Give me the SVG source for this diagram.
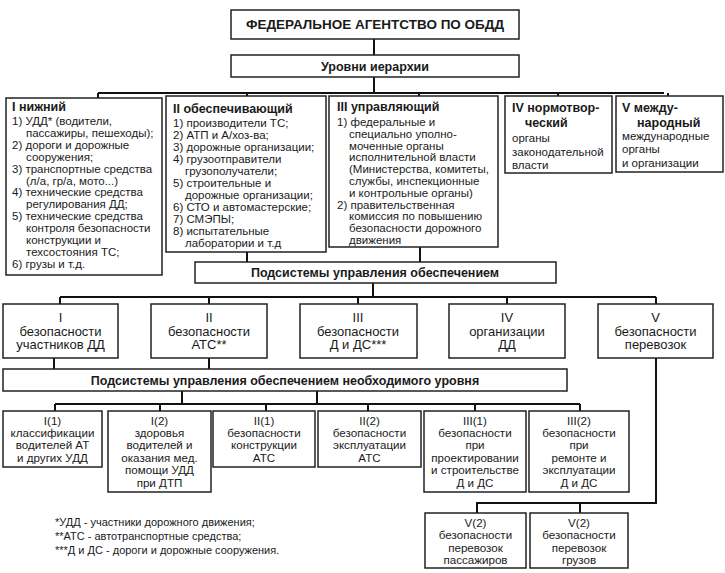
<svg xmlns="http://www.w3.org/2000/svg" width="725" height="573" viewBox="0 0 725 573">
<style>
text{font-family:"Liberation Sans",Arial,sans-serif;fill:#1a1a1a}
.box{fill:#fff;stroke:#222;stroke-width:1.5}
.con{stroke:#111;stroke-width:2;fill:none}
.t{font-size:11.5px}
.h{font-size:12.5px;font-weight:bold}
.s{font-size:13px;text-anchor:middle}
.r{font-size:11.6px;text-anchor:middle}
.f{font-size:11px}
.c{text-anchor:middle}
</style>
<rect width="725" height="573" fill="#fff"/>
<g id="connectors">
<path class="con" d="M374 39V55M374 77V93M98 93H664M98 93V98M247 93V96M419 93V96M558 93V96M668 93V96"/>
<path class="con" d="M247 252V262M420 247V262M373 283V297M60 297H656M60 297V304M209 297V304M358 297V304M507 297V304M656 297V304"/>
<path class="con" d="M54 358V369M209 358V369M182 391V404M317 391V404M55 404H580M55 404V411M160 404V411M266 404V411M368 404V411M475 404V411M580 404V411"/>
<path class="con" d="M656 358V503H477V513M580 503V513"/>
</g>
<g id="agency"><rect class="box" x="231" y="10" width="288" height="29"/><text class="h c" x="375" y="29" font-size="13" textLength="258" lengthAdjust="spacingAndGlyphs">ФЕДЕРАЛЬНОЕ АГЕНТСТВО ПО ОБДД</text></g>
<g id="levels"><rect class="box" x="231" y="55" width="288" height="22"/><text class="h c" x="375" y="70.5">Уровни иерархии</text></g>
<g id="level1"><rect class="box" x="6" y="98" width="156" height="177"/>
<text class="h" x="12" y="110.5">I нижний</text>
<text class="t" x="12" y="125"><tspan x="12">1) УДД* (водители,</tspan><tspan x="26" dy="11.9">пассажиры, пешеходы);</tspan><tspan x="12" dy="11.9">2) дороги и дорожные</tspan><tspan x="26" dy="11.9">сооружения;</tspan><tspan x="12" dy="11.9">3) транспортные средства</tspan><tspan x="26" dy="11.9">(л/а, гр/а, мото...)</tspan><tspan x="12" dy="11.9">4) технические средства</tspan><tspan x="26" dy="11.9">регулирования ДД;</tspan><tspan x="12" dy="11.9">5) технические средства</tspan><tspan x="26" dy="11.9">контроля безопасности</tspan><tspan x="26" dy="11.9">конструкции и</tspan><tspan x="26" dy="11.9">техсостояния ТС;</tspan><tspan x="12" dy="11.9">6) грузы и т.д.</tspan></text></g>
<g id="level2"><rect class="box" x="166" y="96" width="160" height="156"/>
<text class="h" x="173" y="113">II обеспечивающий</text>
<text class="t" x="173" y="127"><tspan x="173">1) производители ТС;</tspan><tspan x="173" dy="12">2) АТП и А/хоз-ва;</tspan><tspan x="173" dy="12">3) дорожные организации;</tspan><tspan x="173" dy="12">4) грузоотправители</tspan><tspan x="185" dy="12">грузополучатели;</tspan><tspan x="173" dy="12">5) строительные и</tspan><tspan x="185" dy="12">дорожные организации;</tspan><tspan x="173" dy="12">6) СТО и автомастерские;</tspan><tspan x="173" dy="12">7) СМЭПЫ;</tspan><tspan x="173" dy="12">8) испытательные</tspan><tspan x="185" dy="12">лаборатории и т.д</tspan></text></g>
<g id="level3"><rect class="box" x="329" y="96" width="169" height="151"/>
<text class="h" x="337" y="111">III управляющий</text>
<text class="t" x="337" y="126"><tspan x="337">1) федеральные и</tspan><tspan x="349" dy="11.8">специально уполно-</tspan><tspan x="349" dy="11.8">моченные органы</tspan><tspan x="349" dy="11.8">исполнительной власти</tspan><tspan x="349" dy="11.8">(Министерства, комитеты,</tspan><tspan x="349" dy="11.8">службы, инспекционные</tspan><tspan x="349" dy="11.8">и контрольные органы)</tspan><tspan x="337" dy="11.8">2) правительственная</tspan><tspan x="349" dy="11.8">комиссия по повышению</tspan><tspan x="349" dy="11.8">безопасности дорожного</tspan><tspan x="349" dy="11.8">движения</tspan></text></g>
<g id="level4"><rect class="box" x="505" y="96" width="107" height="77"/>
<text class="h" x="512" y="112">IV нормотвор-</text><text class="h" x="525" y="127">ческий</text>
<text class="t" x="512" y="142"><tspan x="512">органы</tspan><tspan x="512" dy="13.5">законодательной</tspan><tspan x="512" dy="13.5">власти</tspan></text></g>
<g id="level5"><rect class="box" x="616" y="96" width="107" height="76"/>
<text class="h" x="622" y="112">V между-</text><text class="h" x="637" y="127">народный</text>
<text class="t" x="622" y="139.5"><tspan x="622">международные</tspan><tspan x="622" dy="13.8">органы</tspan><tspan x="622" dy="13.8">и организации</tspan></text></g>
<g id="subsystems"><rect class="box" x="195" y="262" width="361" height="21"/><text class="h c" x="375" y="277">Подсистемы управления обеспечением</text></g>
<g id="sub1"><rect class="box" x="3" y="304" width="115" height="54"/><text class="s" x="60.5" y="322"><tspan x="60.5">I</tspan><tspan x="60.5" dy="13.5">безопасности</tspan><tspan x="60.5" dy="13.5">участников ДД</tspan></text></g>
<g id="sub2"><rect class="box" x="151" y="304" width="116" height="54"/><text class="s" x="209" y="322"><tspan x="209">II</tspan><tspan x="209" dy="13.5">безопасности</tspan><tspan x="209" dy="13.5">АТС**</tspan></text></g>
<g id="sub3"><rect class="box" x="300" y="304" width="117" height="54"/><text class="s" x="358" y="322"><tspan x="358">III</tspan><tspan x="358" dy="13.5">безопасности</tspan><tspan x="358" dy="13.5">Д и ДС***</tspan></text></g>
<g id="sub4"><rect class="box" x="449" y="304" width="116" height="54"/><text class="s" x="507" y="322"><tspan x="507">IV</tspan><tspan x="507" dy="13.5">организации</tspan><tspan x="507" dy="13.5">ДД</tspan></text></g>
<g id="sub5"><rect class="box" x="598" y="304" width="115" height="54"/><text class="s" x="655.5" y="322"><tspan x="655.5">V</tspan><tspan x="655.5" dy="13.5">безопасности</tspan><tspan x="655.5" dy="13.5">перевозок</tspan></text></g>
<g id="subsystems-level"><rect class="box" x="3" y="369" width="564" height="22"/><text class="h c" x="285" y="384.5">Подсистемы управления обеспечением необходимого уровня</text></g>
<g id="s11"><rect class="box" x="3" y="411" width="99" height="56"/><text class="r" x="52.5" y="424.5"><tspan x="52.5">I(1)</tspan><tspan x="52.5" dy="12.4">классификации</tspan><tspan x="52.5" dy="12.4">водителей АТ</tspan><tspan x="52.5" dy="12.4">и других УДД</tspan></text></g>
<g id="s12"><rect class="box" x="108" y="411" width="103" height="81"/><text class="r" x="159.5" y="424.5"><tspan x="159.5">I(2)</tspan><tspan x="159.5" dy="12.4">здоровья</tspan><tspan x="159.5" dy="12.4">водителей и</tspan><tspan x="159.5" dy="12.4">оказания мед.</tspan><tspan x="159.5" dy="12.4">помощи УДД</tspan><tspan x="159.5" dy="12.4">при ДТП</tspan></text></g>
<g id="s21"><rect class="box" x="213" y="411" width="102" height="56"/><text class="r" x="264" y="424.5"><tspan x="264">II(1)</tspan><tspan x="264" dy="12.4">безопасности</tspan><tspan x="264" dy="12.4">конструкции</tspan><tspan x="264" dy="12.4">АТС</tspan></text></g>
<g id="s22"><rect class="box" x="318" y="411" width="103" height="56"/><text class="r" x="369.5" y="424.5"><tspan x="369.5">II(2)</tspan><tspan x="369.5" dy="12.4">безопасности</tspan><tspan x="369.5" dy="12.4">эксплуатации</tspan><tspan x="369.5" dy="12.4">АТС</tspan></text></g>
<g id="s31"><rect class="box" x="424" y="411" width="102" height="81"/><text class="r" x="475" y="424.5"><tspan x="475">III(1)</tspan><tspan x="475" dy="12.4">безопасности</tspan><tspan x="475" dy="12.4">при</tspan><tspan x="475" dy="12.4">проектировании</tspan><tspan x="475" dy="12.4">и строительстве</tspan><tspan x="475" dy="12.4">Д и ДС</tspan></text></g>
<g id="s32"><rect class="box" x="529" y="411" width="100" height="81"/><text class="r" x="579" y="424.5"><tspan x="579">III(2)</tspan><tspan x="579" dy="12.4">безопасности</tspan><tspan x="579" dy="12.4">при</tspan><tspan x="579" dy="12.4">ремонте и</tspan><tspan x="579" dy="12.4">эксплуатации</tspan><tspan x="579" dy="12.4">Д и ДС</tspan></text></g>
<g id="v21"><rect class="box" x="425" y="513" width="101" height="55"/><text class="r" x="475.5" y="526.5"><tspan x="475.5">V(2)</tspan><tspan x="475.5" dy="12.5">безопасности</tspan><tspan x="475.5" dy="12.5">перевозок</tspan><tspan x="475.5" dy="12.5">пассажиров</tspan></text></g>
<g id="v22"><rect class="box" x="530" y="513" width="98" height="55"/><text class="r" x="579" y="526.5"><tspan x="579">V(2)</tspan><tspan x="579" dy="12.5">безопасности</tspan><tspan x="579" dy="12.5">перевозок</tspan><tspan x="579" dy="12.5">грузов</tspan></text></g>
<g id="footnotes"><text class="f" x="55" y="526"><tspan x="55">*УДД - участники дорожного движения;</tspan><tspan x="55" dy="14">**АТС - автотранспортные средства;</tspan><tspan x="55" dy="14">***Д и ДС - дороги и дорожные сооружения.</tspan></text></g>
</svg>
